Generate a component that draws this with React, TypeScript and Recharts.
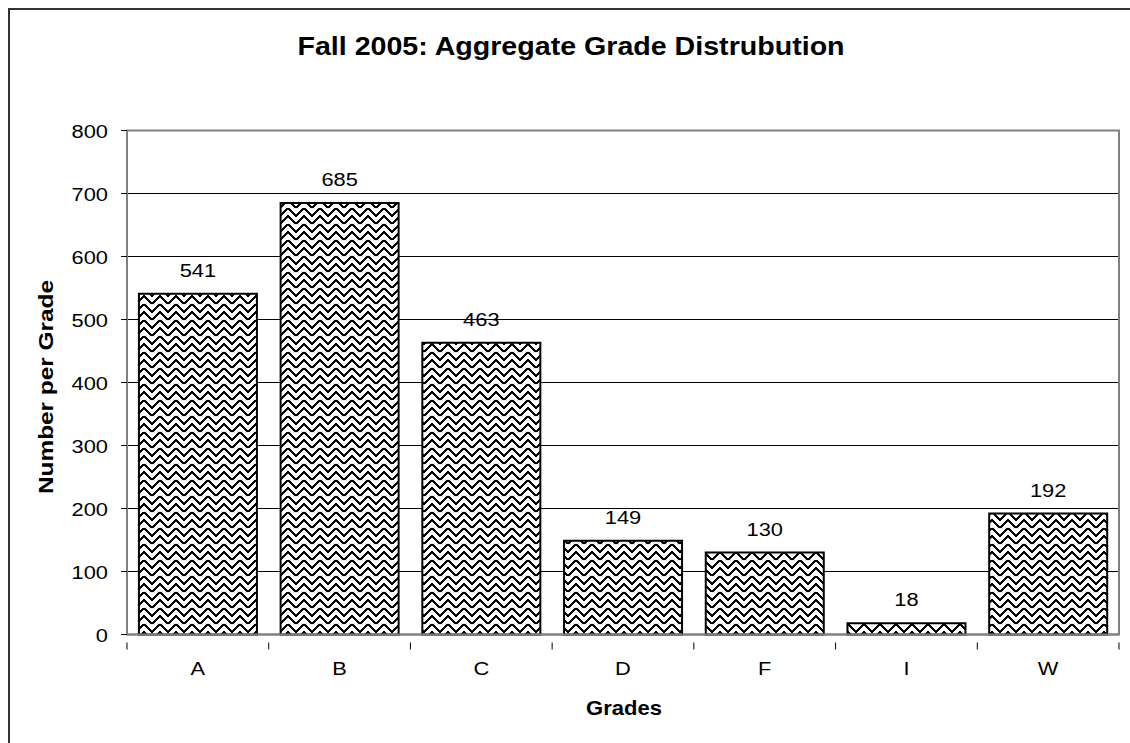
import React from 'react'
import { BarChart, Bar, XAxis, YAxis, CartesianGrid, LabelList, ReferenceArea } from 'recharts'

const grades = ['A', 'B', 'C', 'D', 'F', 'I', 'W']
const counts = [541, 685, 463, 149, 130, 18, 192]
const yTicks = [0, 100, 200, 300, 400, 500, 600, 700, 800]

const data = grades.map((g, i) => ({ grade: g, count: counts[i] }))

const FONT = "Arial, 'Liberation Sans', sans-serif"
const W = 1130
const H = 743
const M = { top: 130.5, right: 11, bottom: 48.5, left: 47 }
const Y_AXIS_W = 80
const PLOT_W = W - M.left - Y_AXIS_W - M.right
const BAND = PLOT_W / grades.length

// the original glyphs are wider than Liberation Sans at the same height
const StretchText = ({ x, y, size, bold, sx = 1.15, anchor = 'middle', rotate = 0, children }: any) => (
  <text
    transform={`translate(${x},${y}) rotate(${rotate}) scale(${sx},1)`}
    textAnchor={anchor}
    fontSize={size}
    fontWeight={bold ? 'bold' : 'normal'}
    fontFamily={FONT}
    fill="#000"
  >
    {children}
  </text>
)

const GradeTick = (props: any) => {
  const { x, y, payload, index } = props
  const half = BAND / 2
  return (
    <g>
      <line x1={x - half} y1={y} x2={x - half} y2={y + 7} stroke="#000" strokeWidth={1} />
      {index === grades.length - 1 && (
        <line x1={x + half} y1={y} x2={x + half} y2={y + 7} stroke="#000" strokeWidth={1} />
      )}
      <StretchText x={x} y={675} size={19}>
        {payload.value}
      </StretchText>
    </g>
  )
}

const CountTick = (props: any) => {
  const { y, payload } = props
  return (
    <StretchText x={108} y={y + 7} size={19} anchor="end">
      {payload.value}
    </StretchText>
  )
}

const BarValue = (props: any) => {
  const { x, y, width, value } = props
  return (
    <StretchText x={x + width / 2} y={y - 17} size={19}>
      {value}
    </StretchText>
  )
}

export default function App() {
  return (
    <div style={{ position: 'absolute', left: 0, top: 0, width: W, height: H, overflow: 'hidden', background: '#fff' }}>
      <div
        style={{
          position: 'absolute',
          left: 8,
          top: 8,
          width: W,
          height: H,
          border: '2px solid #333',
        }}
      />
      <div style={{ position: 'absolute', left: 0, top: 0 }}>
        <BarChart width={W} height={H} data={data} margin={M} barCategoryGap="8.4%">
          <defs>
            <pattern id="zigzag" width="16" height="16" patternUnits="userSpaceOnUse">
              <rect width="16" height="16" fill="#fff" />
              <path
                d="M0 0 L8 8 L16 0 M0 8 L8 16 L16 8 M-4 12 L0 16 M16 16 L20 12"
                stroke="#000"
                strokeWidth={2.4}
                fill="none"
                shapeRendering="crispEdges"
              />
            </pattern>
          </defs>
          <CartesianGrid vertical={false} stroke="#000" strokeWidth={1} />
          <ReferenceArea y1={0} y2={800} fill="none" stroke="#808080" strokeWidth={2} ifOverflow="visible" />
          <XAxis
            dataKey="grade"
            height={60}
            axisLine={{ stroke: '#808080', strokeWidth: 2 }}
            tickLine={false}
            tick={<GradeTick />}
            interval={0}
          />
          <YAxis
            width={Y_AXIS_W}
            domain={[0, 800]}
            ticks={yTicks}
            interval={0}
            axisLine={{ stroke: '#808080', strokeWidth: 2 }}
            tickLine={{ stroke: '#000' }}
            tickSize={6}
            tick={<CountTick />}
          />
          <Bar dataKey="count" fill="url(#zigzag)" stroke="#000" strokeWidth={2} isAnimationActive={false}>
            <LabelList dataKey="count" content={<BarValue />} />
          </Bar>
        </BarChart>
      </div>
      <svg width={W} height={H} style={{ position: 'absolute', left: 0, top: 0, pointerEvents: 'none' }}>
        <StretchText x={571} y={55} size={26} bold sx={1.1}>
          Fall 2005: Aggregate Grade Distrubution
        </StretchText>
        <StretchText x={53} y={387} size={20} bold sx={1.22} rotate={-90}>
          Number per Grade
        </StretchText>
        <StretchText x={624} y={715} size={20} bold sx={1.1}>
          Grades
        </StretchText>
      </svg>
    </div>
  )
}
